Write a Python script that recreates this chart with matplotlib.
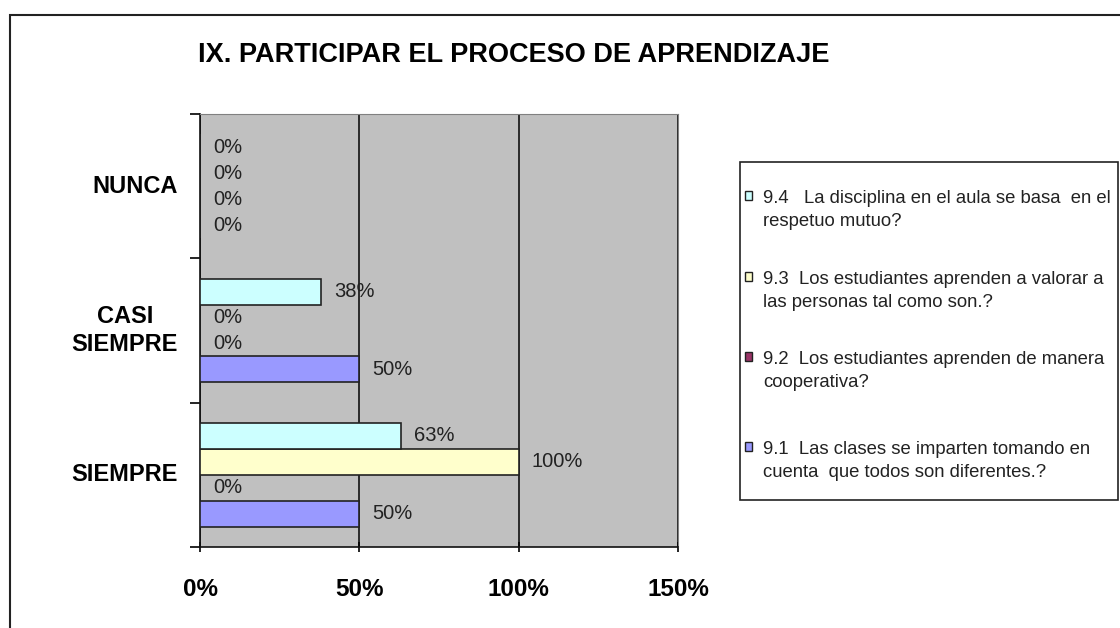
import numpy as np
import matplotlib.pyplot as plt
from matplotlib.patches import Rectangle
from matplotlib.ticker import PercentFormatter

plt.rcParams['font.family'] = ['Liberation Sans', 'DejaVu Sans']

categorias = ['SIEMPRE', 'CASI\nSIEMPRE', 'NUNCA']
series = ['9.1  Las clases se imparten tomando en\ncuenta  que todos son diferentes.?',
          '9.2  Los estudiantes aprenden de manera\ncooperativa?',
          '9.3  Los estudiantes aprenden a valorar a\nlas personas tal como son.?',
          '9.4   La disciplina en el aula se basa  en el\nrespetuo mutuo?']
valores = {
    '9.1': [50, 50, 0],
    '9.2': [0, 0, 0],
    '9.3': [100, 0, 0],
    '9.4': [63, 38, 0],
}
colores = ['#9999FF', '#993366', '#FFFFCC', '#CCFFFF']
xticks = [0, 50, 100, 150]

fig = plt.figure(figsize=(11.2, 6.28), dpi=100)
ax = fig.add_axes([200/1120, 1-547/628, 478/1120, 433/628])
ax.set_facecolor('#C0C0C0')

# marco exterior
fig.patches.append(Rectangle((10/1120, -0.1), 1.2, 1-15/628+0.1, transform=fig.transFigure,
                             fill=False, edgecolor='#222222', lw=1.5))

h = 0.18
y = np.arange(len(categorias))
for i, (k, vals) in enumerate(valores.items()):
    pos = y - 1.5*h + i*h
    ax.barh(pos, vals, height=h, color=colores[i], edgecolor='#222222', lw=1.2, zorder=3)
    for p, v in zip(pos, vals):
        ax.annotate(f'{v}%', (v, p), xytext=(9.5, 0), textcoords='offset points',
                    va='center', ha='left', fontsize=14.5, color='#222222', zorder=4)

ax.set_xlim(0, 150)
ax.set_ylim(-0.5, 2.5)
ax.set_xticks(xticks)
ax.xaxis.set_major_formatter(PercentFormatter(decimals=0))
ax.grid(axis='x', color='#111111', lw=1.2, zorder=1)
ax.set_axisbelow(True)
ax.set_yticks([-0.5, 0.5, 1.5, 2.5])
ax.set_yticklabels([])
ax.tick_params(axis='y', length=7, width=1.2, direction='out')
ax.tick_params(axis='x', length=7, width=1.2, direction='inout', pad=19, labelsize=17.5)
for lb in ax.get_xticklabels():
    lb.set_fontweight('bold')
for c, yy in zip(categorias, y):
    ax.text(-22/478, yy, c, transform=ax.get_yaxis_transform(), ha='right', multialignment='center',
            va='center', fontsize=17, fontweight='bold', linespacing=1.25)
for s in ['left', 'bottom']:
    ax.spines[s].set_color('#111111')
    ax.spines[s].set_linewidth(1.2)
for s in ['top', 'right']:
    ax.spines[s].set_color('#808080')

fig.text(198/1120, 1-55/628, 'IX. PARTICIPAR EL PROCESO DE APRENDIZAJE', fontsize=19.5,
         fontweight='bold', va='center', ha='left')

# leyenda
fig.patches.append(Rectangle((740/1120, 1-500/628), 378/1120, 338/628, transform=fig.transFigure,
                             facecolor='white', edgecolor='#222222', lw=1.2))
ys = [210, 291, 371, 461]
for j, yy in enumerate(ys):
    idx = 3 - j
    fig.patches.append(Rectangle((745/1120, 1-(yy-10)/628), 7/1120, 9/628, transform=fig.transFigure,
                                 facecolor=colores[idx], edgecolor='#222222', lw=1))
    fig.text(763/1120, 1-yy/628, series[idx], fontsize=13.3, va='center', ha='left',
             color='#222222', linespacing=1.4)

fig.savefig('out.png', dpi=100)
